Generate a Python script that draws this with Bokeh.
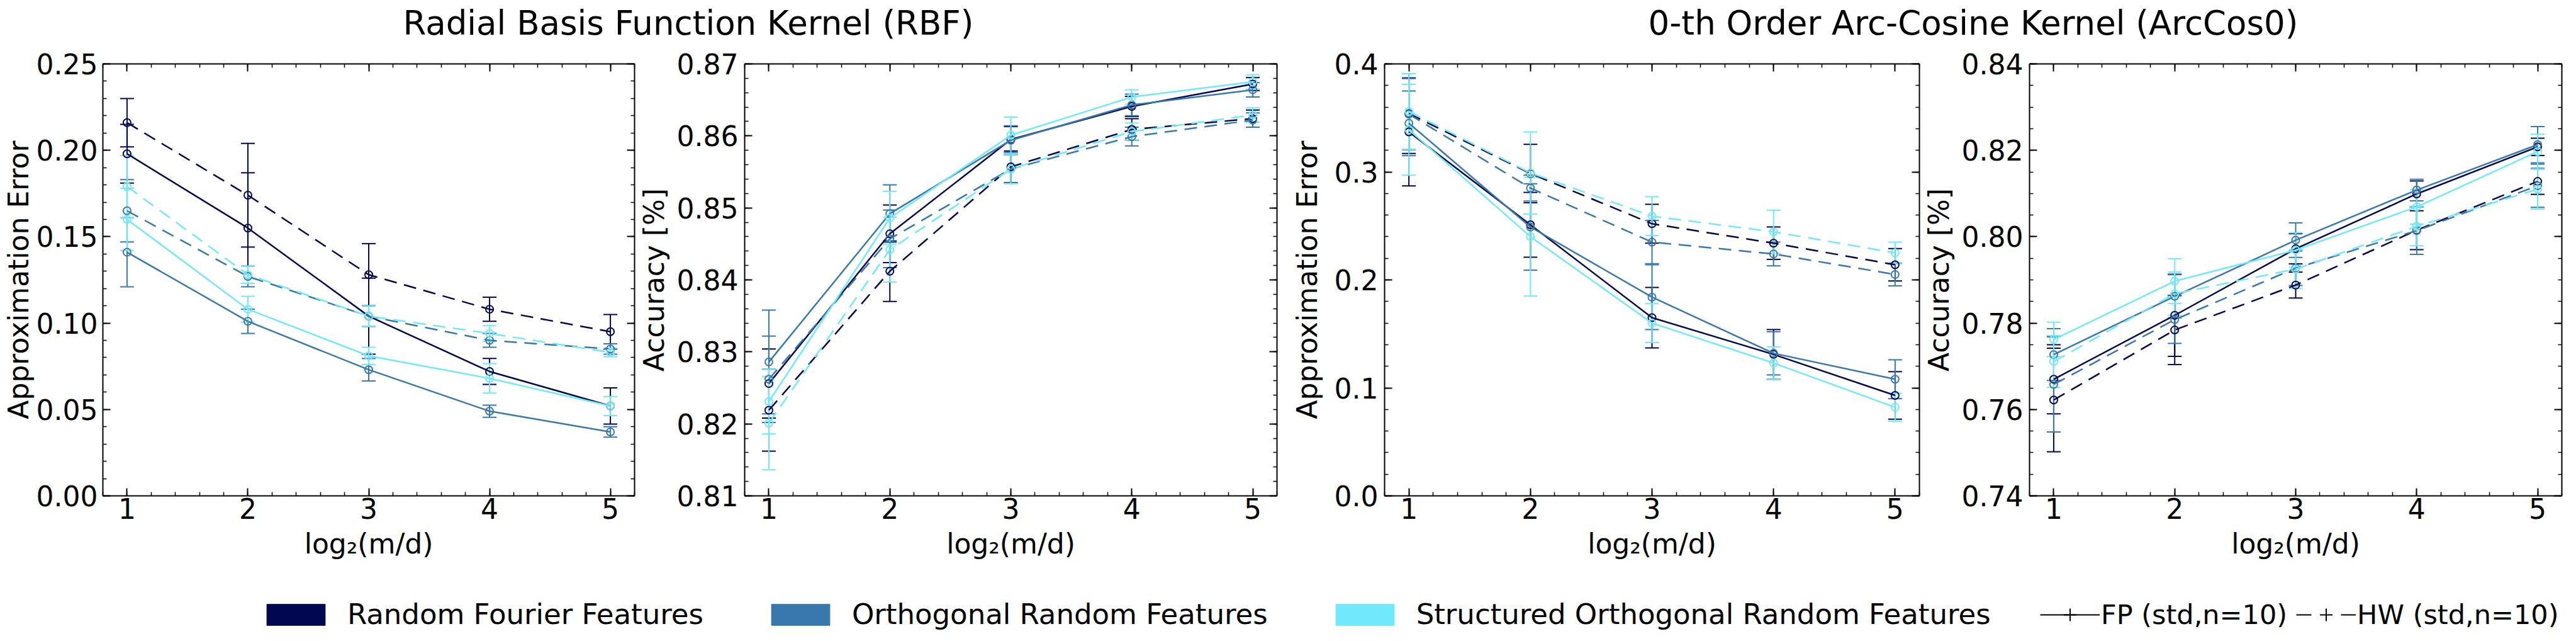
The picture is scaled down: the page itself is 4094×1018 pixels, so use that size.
import numpy as np
from bokeh.plotting import figure
from bokeh.models import (Range1d, LinearAxis, FixedTicker, NumeralTickFormatter,
                          CustomJSTickFormatter, Whisker, TeeHead, ColumnDataSource,
                          Legend, LegendItem, Label)
from bokeh.layouts import column, row
from bokeh.embed import file_html
from bokeh.resources import INLINE

# ---------------- data ----------------
x_vals = [1, 2, 3, 4, 5]
x_ticks = [1, 2, 3, 4, 5]
methods = ["Random Fourier Features", "Orthogonal Random Features",
           "Structured Orthogonal Random Features"]
colors = ["#01084f", "#3878ad", "#72e8fc"]
titles = ["Radial Basis Function Kernel (RBF)", "0-th Order Arc-Cosine Kernel (ArcCos0)"]
modes = ["FP (std,n=10)", "HW (std,n=10)"]

# RBF approximation error  (rows: RFF, ORF, SORF)
rbf_err_fp = [[0.198, 0.155, 0.104, 0.072, 0.052],
              [0.141, 0.101, 0.073, 0.049, 0.037],
              [0.160, 0.108, 0.081, 0.068, 0.052]]
rbf_err_fp_std = [[0.017, 0.032, 0.022, 0.0075, 0.0105],
                  [0.020, 0.007, 0.0065, 0.0035, 0.003],
                  [0.018, 0.0075, 0.005, 0.0085, 0.0055]]
rbf_err_hw = [[0.216, 0.174, 0.128, 0.108, 0.095],
              [0.165, 0.127, 0.104, 0.090, 0.085],
              [0.179, 0.128, 0.104, 0.094, 0.083]]
rbf_err_hw_std = [[0.014, 0.030, 0.018, 0.007, 0.010],
                  [0.018, 0.006, 0.006, 0.004, 0.003],
                  [0.018, 0.005, 0.006, 0.0045, 0.0025]]
rbf_err_ticks = [0.0, 0.05, 0.10, 0.15, 0.20, 0.25]

# RBF accuracy
rbf_acc_fp = [[0.8256, 0.8464, 0.8595, 0.8641, 0.8672],
              [0.8286, 0.8492, 0.8594, 0.8643, 0.8664],
              [0.8231, 0.8486, 0.8601, 0.8654, 0.8675]]
rbf_acc_fp_std = [[0.0048, 0.0040, 0.0018, 0.0014, 0.0009],
                  [0.0072, 0.0040, 0.0020, 0.0015, 0.0010],
                  [0.0045, 0.0037, 0.0025, 0.0010, 0.0010]]
rbf_acc_hw = [[0.8219, 0.8412, 0.8557, 0.8609, 0.8624],
              [0.8262, 0.8457, 0.8554, 0.8599, 0.8622],
              [0.8201, 0.8442, 0.8554, 0.8606, 0.8629]]
rbf_acc_hw_std = [[0.0057, 0.0042, 0.0022, 0.0015, 0.0012],
                  [0.0060, 0.0040, 0.0020, 0.0013, 0.0010],
                  [0.0065, 0.0045, 0.0020, 0.0012, 0.0010]]
rbf_acc_ticks = [0.81, 0.82, 0.83, 0.84, 0.85, 0.86, 0.87]

# ArcCos0 approximation error
arc_err_fp = [[0.337, 0.251, 0.165, 0.131, 0.093],
              [0.345, 0.249, 0.184, 0.132, 0.108],
              [0.339, 0.240, 0.160, 0.123, 0.082]]
arc_err_fp_std = [[0.050, 0.030, 0.028, 0.023, 0.022],
                  [0.030, 0.040, 0.030, 0.020, 0.018],
                  [0.042, 0.055, 0.018, 0.015, 0.013]]
arc_err_hw = [[0.354, 0.2985, 0.252, 0.234, 0.214],
              [0.3535, 0.285, 0.235, 0.224, 0.205],
              [0.356, 0.299, 0.259, 0.2445, 0.225]]
arc_err_hw_std = [[0.037, 0.027, 0.018, 0.015, 0.015],
                  [0.033, 0.012, 0.020, 0.011, 0.0105],
                  [0.035, 0.038, 0.018, 0.020, 0.010]]
arc_err_ticks = [0.0, 0.1, 0.2, 0.3, 0.4]

# ArcCos0 accuracy
arc_acc_fp = [[0.7670, 0.7818, 0.7972, 0.8099, 0.8208],
              [0.7727, 0.7862, 0.7992, 0.8108, 0.8213],
              [0.7762, 0.7897, 0.7969, 0.8069, 0.8197]]
arc_acc_fp_std = [[0.0080, 0.0095, 0.0035, 0.0030, 0.0020],
                  [0.0060, 0.0050, 0.0040, 0.0025, 0.0042],
                  [0.0040, 0.0052, 0.0040, 0.0040, 0.0040]]
arc_acc_hw = [[0.7622, 0.7784, 0.7888, 0.8015, 0.8128],
              [0.7658, 0.7808, 0.7927, 0.8014, 0.8118],
              [0.7711, 0.7868, 0.7925, 0.8024, 0.8110]]
arc_acc_hw_std = [[0.0120, 0.0080, 0.0030, 0.0045, 0.0030],
                  [0.0110, 0.0055, 0.0040, 0.0055, 0.0050],
                  [0.0060, 0.0050, 0.0045, 0.0045, 0.0046]]
arc_acc_ticks = [0.74, 0.76, 0.78, 0.80, 0.82, 0.84]

# ---------------- layout / style ----------------
FONT = "DejaVu Sans"
TICK_FS = "44px"
W_TOTAL = 4078
TITLE_H = 72
PANEL_H = 835
LEGEND_H = 95
FRAME_W = 850
FRAME_TOP = 29
FRAME_H = 686
BORDERS = [(158, 2), (169, 2), (169, 2), (169, 7)]
HW_DASH = "20 12"


def minor_list(lo, hi, step):
    return [float(v) for v in np.round(np.arange(lo, hi + step / 2, step), 6)]


def style_axis(ax, show_labels, standoff=10, label_standoff=8):
    ax.axis_line_width = 2
    ax.axis_line_color = "black"
    ax.major_tick_in = 12
    ax.major_tick_out = 0
    ax.minor_tick_in = 6
    ax.minor_tick_out = 0
    ax.major_tick_line_width = 2
    ax.minor_tick_line_width = 1.5
    ax.major_tick_line_color = "black"
    ax.minor_tick_line_color = "black"
    if show_labels:
        ax.major_label_text_font = FONT
        ax.major_label_text_font_size = TICK_FS
        ax.major_label_text_color = "black"
        ax.major_label_standoff = standoff
        ax.axis_label_text_font = FONT
        ax.axis_label_text_font_size = TICK_FS
        ax.axis_label_text_font_style = "normal"
        ax.axis_label_text_color = "black"
        ax.axis_label_standoff = label_standoff
    else:
        ax.formatter = CustomJSTickFormatter(code="return ''")
        ax.major_label_text_font_size = "0px"
        ax.major_label_standoff = 0


def make_panel(idx, ylabel, yr, yticks, yminor, fmt, fp, fp_std, hw, hw_std,
               ystand, ylab_stand):
    lb, rb = BORDERS[idx]
    p = figure(width=lb + FRAME_W + rb, height=PANEL_H,
               x_range=Range1d(0.8, 5.2), y_range=Range1d(*yr),
               x_axis_location=None, y_axis_location=None,
               toolbar_location=None, output_backend="svg",
               min_border_left=lb, min_border_right=rb, min_border_top=FRAME_TOP,
               min_border_bottom=PANEL_H - FRAME_TOP - FRAME_H)
    p.outline_line_color = None
    p.xgrid.visible = False
    p.ygrid.visible = False

    xt = FixedTicker(ticks=x_ticks, minor_ticks=minor_list(0.8, 5.2, 0.2))
    yt = FixedTicker(ticks=yticks, minor_ticks=minor_list(yr[0], yr[1], yminor))

    bottom = LinearAxis(ticker=xt, formatter=NumeralTickFormatter(format="0"),
                        axis_label="log\u2082(m/d)")
    style_axis(bottom, True, standoff=3, label_standoff=11)
    left = LinearAxis(ticker=yt, formatter=NumeralTickFormatter(format=fmt),
                      axis_label=ylabel)
    style_axis(left, True, standoff=ystand, label_standoff=ylab_stand)
    top = LinearAxis(ticker=xt)
    style_axis(top, False)
    right = LinearAxis(ticker=yt)
    style_axis(right, False)
    p.add_layout(bottom, "below")
    p.add_layout(left, "left")
    p.add_layout(top, "above")
    p.add_layout(right, "right")

    for i, c in enumerate(colors):
        for means, stds, dash in ((fp[i], fp_std[i], "solid"), (hw[i], hw_std[i], HW_DASH)):
            src = ColumnDataSource(dict(
                x=x_vals, y=means,
                upper=[m + s for m, s in zip(means, stds)],
                lower=[m - s for m, s in zip(means, stds)]))
            p.line("x", "y", source=src, line_color=c, line_width=2.5, line_dash=dash)
            p.scatter("x", "y", source=src, marker="circle", size=12, fill_color=None,
                      line_color=c, line_width=2)
            p.add_layout(Whisker(source=src, base="x", upper="upper", lower="lower",
                                 dimension="height", line_color=c, line_width=2,
                                 upper_head=TeeHead(size=22, line_color=c, line_width=2),
                                 lower_head=TeeHead(size=22, line_color=c, line_width=2)))
    return p


p1 = make_panel(0, "Approximation Error", (0.0, 0.25), rbf_err_ticks, 0.01, "0.00",
                rbf_err_fp, rbf_err_fp_std, rbf_err_hw, rbf_err_hw_std, 8, 0)
p2 = make_panel(1, "Accuracy [%]", (0.81, 0.87), rbf_acc_ticks, 0.002, "0.00",
                rbf_acc_fp, rbf_acc_fp_std, rbf_acc_hw, rbf_acc_hw_std, 10, 8)
p3 = make_panel(2, "Approximation Error", (0.0, 0.4), arc_err_ticks, 0.02, "0.0",
                arc_err_fp, arc_err_fp_std, arc_err_hw, arc_err_hw_std, 10, 15)
p4 = make_panel(3, "Accuracy [%]", (0.74, 0.84), arc_acc_ticks, 0.005, "0.00",
                arc_acc_fp, arc_acc_fp_std, arc_acc_hw, arc_acc_hw_std, 10, 8)

# frame left positions (relative to page content start)
frame_left = []
acc = 0
for lb, rb in BORDERS:
    frame_left.append(acc + lb)
    acc += lb + FRAME_W + rb

# ---------------- titles ----------------
tf = figure(width=W_TOTAL, height=TITLE_H, x_range=Range1d(0, W_TOTAL),
            y_range=Range1d(0, TITLE_H), x_axis_type=None, y_axis_type=None,
            toolbar_location=None, output_backend="svg", min_border=0)
tf.outline_line_color = None
tf.xgrid.visible = False
tf.ygrid.visible = False
for k, t in enumerate(titles):
    cx = (frame_left[2 * k] + frame_left[2 * k + 1] + FRAME_W) / 2
    tf.add_layout(Label(x=cx, y=36, text=t, text_align="center",
                        text_baseline="alphabetic", text_font=FONT,
                        text_font_size="53px", text_color="black"))

# ---------------- legend ----------------
# legend-only figure; the dummy renderers sit outside the visible range
lf = figure(width=W_TOTAL, height=LEGEND_H, x_range=Range1d(0, 1), y_range=Range1d(0, 1),
            x_axis_type=None, y_axis_type=None, toolbar_location=None,
            output_backend="svg", min_border=0)
lf.outline_line_color = None
lf.xgrid.visible = False
lf.ygrid.visible = False

hidden = dict(x=[-10.0, -9.0], y=[-10.0, -10.0])

patch_items = []
for name, c in zip(methods, colors):
    r = lf.rect(x=hidden["x"], y=hidden["y"], width=0.5, height=0.5,
                fill_color=c, line_color=c)
    patch_items.append(LegendItem(label=name, renderers=[r]))

err_items = []
for name, dash in zip(modes, ["solid", "24 47"]):
    rl = lf.line(x=hidden["x"], y=hidden["y"], line_color="black", line_width=2,
                 line_dash=dash)
    rm = lf.scatter(x=hidden["x"], y=hidden["y"], marker="cross", line_color="black",
                    line_width=2)
    err_items.append(LegendItem(label=name, renderers=[rl, rm]))

leg1 = Legend(items=patch_items, orientation="horizontal", location=(412, 0),
              glyph_width=116, glyph_height=42, label_standoff=24, spacing=96,
              padding=0, margin=0, border_line_color=None, background_fill_alpha=0,
              label_text_font=FONT, label_text_font_size="45px",
              label_text_color="black")
leg2 = Legend(items=err_items, orientation="horizontal", location=(3242, 1),
              glyph_width=95, glyph_height=50, label_standoff=2, spacing=14,
              padding=0, margin=0, border_line_color=None, background_fill_alpha=0,
              label_text_font=FONT, label_text_font_size="43px",
              label_text_color="black")
lf.add_layout(leg1)
lf.add_layout(leg2)

layout = column(tf, row(p1, p2, p3, p4), lf)
open("out.html", "w").write(file_html(layout, INLINE))
